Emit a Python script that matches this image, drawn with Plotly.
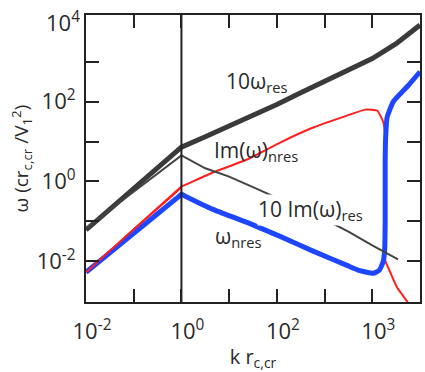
import plotly.graph_objects as go

# ---- data (log-log) ----
k_res = [0.01, 0.1, 0.63, 1.0, 3.16, 10, 31.6, 100, 316, 1000, 3162, 10000, 31623, 100000]
w_res10 = [0.061, 0.66, 4.5, 7.2, 13.2, 24, 44.7, 85, 166, 316, 603, 1200, 2820, 8300]

k_imres = [0.01, 0.1, 1.0, 3.16, 10, 31.6, 100, 316, 1000, 3162, 10000, 34674]
im_res10 = [0.068, 0.55, 4.5, 2.14, 1.32, 0.72, 0.38, 0.21, 0.112, 0.055, 0.025, 0.0112]

k_imnres = [0.01, 0.1, 0.9, 1.0, 1.15, 4.57, 23.7, 117, 575, 2951, 7079, 12589, 16982, 18621,
            18621, 21380, 33113, 56234, 70000]
im_nres = [0.0053, 0.063, 0.64, 0.75, 0.8, 1.68, 3.55, 9.4, 22.4, 44.7, 63, 60, 31, 13.8,
           0.0107, 0.0071, 0.0022, 0.00091, 0.0005]

k_nres = [0.01, 0.1, 0.9, 1.0, 1.15, 4.57, 23.7, 117, 575, 2951, 5495, 10471, 14125, 16982,
          18197, 18621, 18621, 19055, 20417, 27542, 56234, 100000]
w_nres = [0.0053, 0.05, 0.43, 0.48, 0.44, 0.2, 0.094, 0.042, 0.018, 0.0079, 0.0058, 0.005,
          0.006, 0.01, 0.02, 0.1, 3.16, 12.6, 40, 100, 250, 560]

x_tickvals = [1e-2, 1, 1e2, 1e4]
x_ticktext = ["10<sup>-2</sup>", "10<sup>0</sup>", "10<sup>2</sup>", "10<sup>3</sup>"]
y_tickvals = [1e-2, 1, 1e2]
y_ticktext = ["10<sup>-2</sup>", "10<sup>0</sup>", "10<sup>2</sup>"]

FONT = "Open Sans"
DARK = "#3a3a3a"
RED = "#ff1f1f"
BLUE = "#1e46ff"
TXT = "#2a2a2a"

fig = go.Figure()
fig.add_trace(go.Scatter(x=k_res, y=w_res10, mode="lines",
                         line=dict(color=DARK, width=5), hoverinfo="skip"))
fig.add_trace(go.Scatter(x=k_imnres, y=im_nres, mode="lines",
                         line=dict(color=RED, width=2, shape="spline", smoothing=0.4),
                         hoverinfo="skip"))
fig.add_trace(go.Scatter(x=k_nres, y=w_nres, mode="lines",
                         line=dict(color=BLUE, width=5, shape="spline", smoothing=0.4),
                         hoverinfo="skip"))
n_left = 4
fig.add_trace(go.Scatter(x=k_imnres[:n_left], y=im_nres[:n_left], mode="lines",
                         line=dict(color=RED, width=2), hoverinfo="skip"))
fig.add_trace(go.Scatter(x=k_imres, y=im_res10, mode="lines",
                         line=dict(color="#444444", width=2), hoverinfo="skip"))

fig.add_shape(type="line", xref="x", yref="paper", x0=1, x1=1, y0=0, y1=1,
              line=dict(color="#222222", width=2))

tick_common = dict(
    type="log", showgrid=False, zeroline=False,
    showline=True, linecolor="#222222", linewidth=2, mirror="allticks",
    ticks="inside", ticklen=13, tickwidth=2, tickcolor="#222222",
    tickfont=dict(family=FONT, size=22, color=TXT),
)

fig.update_xaxes(**tick_common, range=[-2, 5],
                 tickvals=[10 ** i for i in range(-2, 6)],
                 ticktext=[x_ticktext[x_tickvals.index(10 ** i)] if (10 ** i) in x_tickvals else ""
                           for i in range(-2, 6)],
                 ticklabelshift=6, ticklabelstandoff=9,
                 title=dict(text="k r<sub>c,cr</sub>", font=dict(family=FONT, size=20, color=TXT),
                            standoff=6))
fig.update_yaxes(**tick_common, range=[-3.02, 4.17],
                 tickvals=[10 ** i for i in range(-3, 4)],
                 ticktext=[y_ticktext[y_tickvals.index(10 ** i)] if (10 ** i) in y_tickvals else ""
                           for i in range(-3, 4)],
                 ticklabelstandoff=4)

fig.add_annotation(xref="paper", yref="paper", x=0, y=0.5, xshift=-65,
                   text="ω (cr<sub>c,cr</sub> /V<sub>1</sub><sup>2</sup>)", textangle=-90,
                   showarrow=False, xanchor="center", yanchor="middle",
                   font=dict(family=FONT, size=19, color=TXT))

ann_font = dict(family=FONT, size=21, color=TXT)
fig.add_annotation(xref="paper", yref="y", x=0, y=4, xshift=-4, text="10<sup>4</sup>",
                   showarrow=False, xanchor="right", yanchor="middle",
                   font=dict(family=FONT, size=22, color=TXT))
fig.add_annotation(x=0.89, y=2.5, text="10ω<sub>res</sub>", showarrow=False,
                   xanchor="left", yanchor="middle", font=ann_font)
fig.add_annotation(x=0.64, y=0.77, text="Im(ω)<sub>nres</sub>", showarrow=False,
                   xanchor="left", yanchor="middle", font=ann_font)
fig.add_annotation(x=1.585, y=-0.72, text="10 Im(ω)<sub>res</sub>", showarrow=False,
                   xanchor="left", yanchor="middle", font=ann_font, bgcolor="white",
                   borderpad=0)
fig.add_annotation(x=0.66, y=-1.38, text="ω<sub>nres</sub>", showarrow=False,
                   xanchor="left", yanchor="middle", font=ann_font)

fig.update_layout(width=425, height=372, showlegend=False,
                  margin=dict(l=86, r=5, t=15, b=70, autoexpand=False),
                  plot_bgcolor="white", paper_bgcolor="white")

fig.write_html("out.html")
